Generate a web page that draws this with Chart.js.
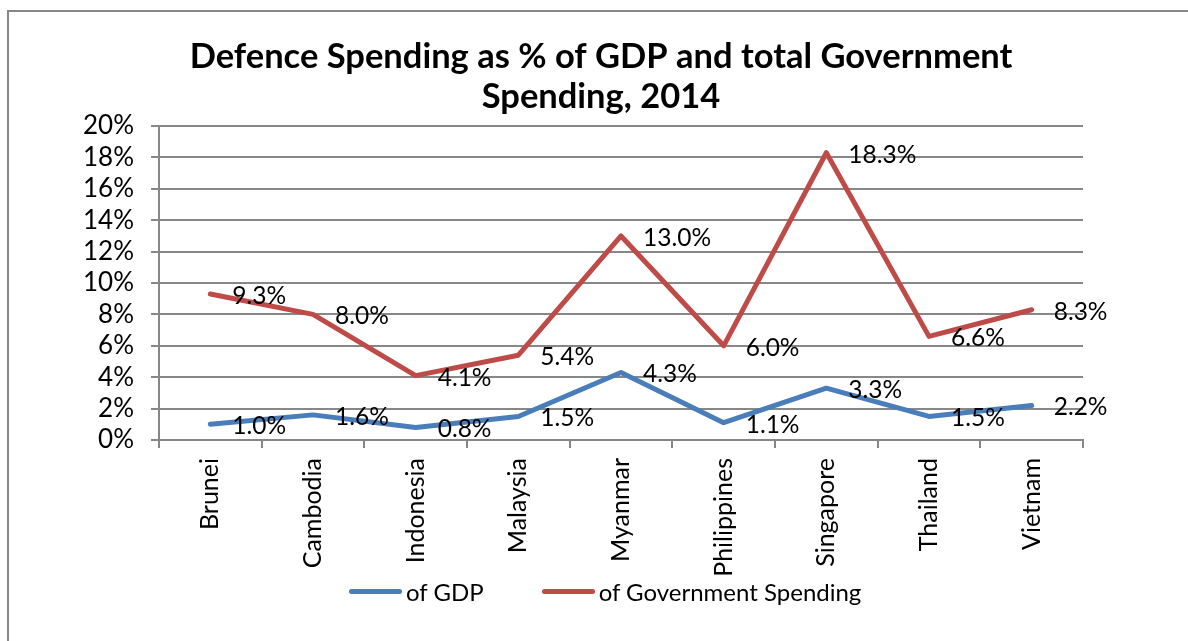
<!DOCTYPE html>
<html>
<head>
<meta charset="utf-8">
<title>Defence Spending 2014</title>
<script src="https://cdn.jsdelivr.net/npm/chart.js@4.4.1/dist/chart.umd.min.js"></script>
<style>
  html, body { margin: 0; padding: 0; background: #fff; overflow: hidden; }
  #frame {
    position: absolute; left: 7px; top: 10px; width: 1300px; height: 700px;
    border-left: 2px solid #878787; border-top: 2px solid #878787;
  }
  #wrap { position: absolute; left: 0; top: 0; width: 1188px; height: 641px; }
  #legend {
    position: absolute; left: 349px; top: 575px; height: 32px;
    display: flex; align-items: center;
    font: 24px Lato, "Liberation Sans", sans-serif; color: #000;
  }
  #legend .item { display: flex; align-items: center; margin-right: 58px; }
  #legend .swatch { width: 53px; height: 5px; border-radius: 3px; margin-right: 4px; }
</style>
</head>
<body>
<div id="frame"></div>
<div id="wrap"><canvas id="chart" width="1188" height="641"></canvas></div>
<div id="legend"></div>
<script>
const countries = ["Brunei", "Cambodia", "Indonesia", "Malaysia", "Myanmar",
  "Philippines", "Singapore", "Thailand", "Vietnam"];
const ofGdp = [1.0, 1.6, 0.8, 1.5, 4.3, 1.1, 3.3, 1.5, 2.2];
const ofGovSpending = [9.3, 8.0, 4.1, 5.4, 13.0, 6.0, 18.3, 6.6, 8.3];
const titleLines = ["Defence Spending as % of GDP and total Government", "Spending, 2014"];

const FONT = "Lato, 'Liberation Sans', sans-serif";
const GRID = "#878787";

// percentage next to each point, to its right
const valueLabels = {
  id: "valueLabels",
  afterDatasetsDraw(chart) {
    const ctx = chart.ctx;
    ctx.save();
    ctx.font = "24.5px " + FONT;
    ctx.fillStyle = "#000";
    ctx.textAlign = "left";
    ctx.textBaseline = "middle";
    chart.data.datasets.forEach((ds, i) => {
      chart.getDatasetMeta(i).data.forEach((pt, j) => {
        ctx.fillText(ds.data[j].toFixed(1) + "%", pt.x + 22, pt.y + 2);
      });
    });
    ctx.restore();
  }
};

// legend as html under the canvas
function buildLegend(chart) {
  const box = document.getElementById("legend");
  box.innerHTML = "";
  chart.data.datasets.forEach(ds => {
    const item = document.createElement("div");
    item.className = "item";
    const sw = document.createElement("span");
    sw.className = "swatch";
    sw.style.background = ds.borderColor;
    const txt = document.createElement("span");
    txt.textContent = ds.label;
    item.appendChild(sw);
    item.appendChild(txt);
    box.appendChild(item);
  });
}

function draw() {
  const chart = new Chart(document.getElementById("chart"), {
    type: "line",
    data: {
      labels: countries,
      datasets: [
        {
          label: "of GDP",
          data: ofGdp,
          borderColor: "#4A7EBB",
          backgroundColor: "#4A7EBB",
          borderWidth: 5,
          pointRadius: 0,
          tension: 0,
          borderJoinStyle: "round",
          borderCapStyle: "round"
        },
        {
          label: "of Government Spending",
          data: ofGovSpending,
          borderColor: "#BE4B48",
          backgroundColor: "#BE4B48",
          borderWidth: 5,
          pointRadius: 0,
          tension: 0,
          borderJoinStyle: "round",
          borderCapStyle: "round"
        }
      ]
    },
    options: {
      responsive: false,
      animation: false,
      layout: { padding: { left: 14, right: 0, top: 0, bottom: 51 } },
      plugins: {
        title: {
          display: true,
          text: titleLines,
          color: "#000",
          font: { family: FONT, size: 34.5, weight: "bold", lineHeight: 1.16 },
          padding: { top: 37, bottom: 9 }
        },
        legend: { display: false },
        tooltip: { enabled: false }
      },
      scales: {
        x: {
          offset: true,
          grid: {
            offset: true,
            drawOnChartArea: false,
            drawTicks: true,
            tickLength: 8,
            color: GRID,
            lineWidth: 2
          },
          border: { color: GRID, width: 2 },
          ticks: {
            color: "#000",
            font: { family: FONT, size: 25 },
            minRotation: 90,
            maxRotation: 90,
            padding: 10
          },
          afterFit(scale) { scale.height = 150; }
        },
        y: {
          min: 0,
          max: 20,
          grid: { color: GRID, lineWidth: 2, tickLength: 8 },
          border: { color: GRID, width: 2 },
          ticks: {
            stepSize: 2,
            autoSkip: false,
            color: "#000",
            font: { family: FONT, size: 26 },
            padding: 17,
            callback: v => v + "%"
          },
          afterFit(scale) { scale.width = 145; }
        },
        yRight: {
          position: "right",
          display: true,
          grid: { display: false },
          border: { display: false },
          ticks: { display: false },
          afterFit(scale) { scale.width = 105; }
        }
      }
    },
    plugins: [valueLabels]
  });
  buildLegend(chart);
}

document.fonts.load("26px Lato").then(draw, draw);
</script>
</body>
</html>
